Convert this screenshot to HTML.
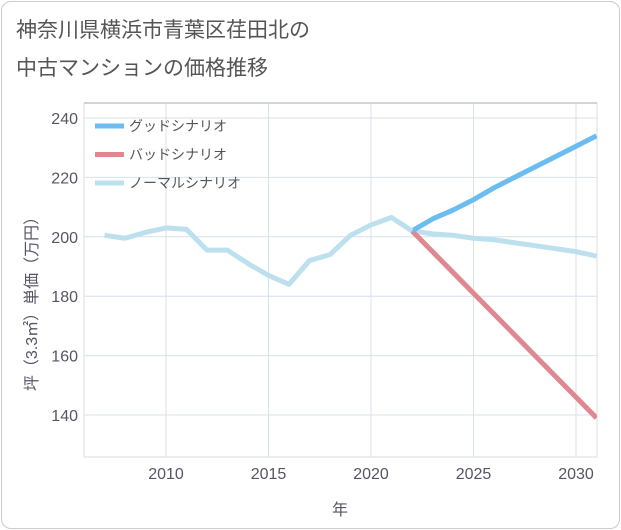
<!DOCTYPE html>
<html><head><meta charset="utf-8"><style>
body{margin:0;background:#fff;}
#wrap{position:relative;width:621px;height:530px;font-family:"Liberation Sans","Noto Sans CJK JP",sans-serif;}
#frame{position:absolute;left:1px;top:1px;width:617px;height:526px;border:1px solid #ccc;border-radius:10px;}
.title{position:absolute;left:16px;font-size:21px;color:#555;}
</style></head><body>
<div id="wrap">
<div id="frame"></div>
<div class="title" style="top:14px">神奈川県横浜市青葉区荏田北の</div>
<div class="title" style="top:52px">中古マンションの価格推移</div>
<svg id="chart" width="621" height="530" style="position:absolute;left:0;top:0"></svg>
</div>
<script>
const years=[2007,2008,2009,2010,2011,2012,2013,2014,2015,2016,2017,2018,2019,2020,2021,2022];
const normalHist=[200.5,199.5,201.5,203,202.5,195.5,195.5,191,187,184,192,194,200.5,204,206.5,202];
const futureYears=[2022,2023,2024,2025,2026,2027,2028,2029,2030,2031];
const goodVals=[202,206,209,212.5,216.5,220,223.5,227,230.5,234];
const badVals=[202,195,188,181,174,167,160,153,146,139];
const normalFuture=[202,201,200.5,199.5,199,198,197,196,195,193.5];
const xTicks=[2010,2015,2020,2025,2030];
const yTicks=[140,160,180,200,220,240];
const NS="http://www.w3.org/2000/svg";
const svg=document.getElementById('chart');
const L=84,R=597,T=103,B=457;
const x=v=>166+(v-2010)*20.5;
const y=v=>118+(240-v)*2.97;
function mk(t,a){const e=document.createElementNS(NS,t);for(const k in a)e.setAttribute(k,a[k]);svg.appendChild(e);return e;}
let g=mk('rect',{x:L,y:T,width:R-L,height:B-T,fill:'none',stroke:'#ddd'});


let tl=mk('line',{x1:L,x2:R,y1:T,y2:T,stroke:'#aaa'});


xTicks.forEach(t=>{const l=mk('line',{x1:x(t),x2:x(t),y1:T,y2:B,stroke:'#d6e2ec','stroke-width':1});


const tx=mk('text',{x:x(t),y:479,'text-anchor':'middle','font-size':16,fill:'#556'});tx.textContent=t;

});
yTicks.forEach(t=>{const l=mk('line',{x1:L,x2:R,y1:y(t),y2:y(t),stroke:'#d6e2ec','stroke-width':1});


const tx=mk('text',{x:78,y:y(t)+6,'text-anchor':'end','font-size':16,fill:'#556'});tx.textContent=t;

});
let xt=mk('text',{x:340,y:515,'text-anchor':'middle','font-size':16,fill:'#556'});xt.textContent='年';


let yt=mk('text',{x:0,y:0,'text-anchor':'middle','font-size':16,fill:'#556',transform:'translate(37,300) rotate(-90)'});yt.textContent='坪（3.3㎡）単価（万円）';


const defs=mk('defs',{});const cp=document.createElementNS(NS,'clipPath');cp.setAttribute('id','c');
const cr=document.createElementNS(NS,'rect');cr.setAttribute('x',L);cr.setAttribute('y',T);cr.setAttribute('width',R-L);cr.setAttribute('height',B-T);cp.appendChild(cr);defs.appendChild(cp);
function line(xs,vs,col,name){const p=mk('polyline',{points:xs.map((v,i)=>x(v)+','+y(vs[i])).join(' '),fill:'none',stroke:col,'stroke-width':5,'stroke-linejoin':'round','clip-path':'url(#c)'});

}
line(futureYears,normalFuture,'#bde0ef','normal-scenario-future');
line(futureYears,badVals,'#e08890','bad-scenario-line');
line(futureYears,goodVals,'#6bbcf0','good-scenario-line');
line(years,normalHist,'#bde0ef','normal-scenario-history');
const leg=[['グッドシナリオ','#6bbcf0'],['バッドシナリオ','#e08890'],['ノーマルシナリオ','#bde0ef']];
leg.forEach((e,i)=>{const yy=126+i*28.5;
const l=mk('line',{x1:95,x2:124,y1:yy,y2:yy,stroke:e[1],'stroke-width':5});


const t=mk('text',{x:129,y:yy+5,'font-size':14,fill:'#555'});t.textContent=e[0];

});
</script>
</body></html>
